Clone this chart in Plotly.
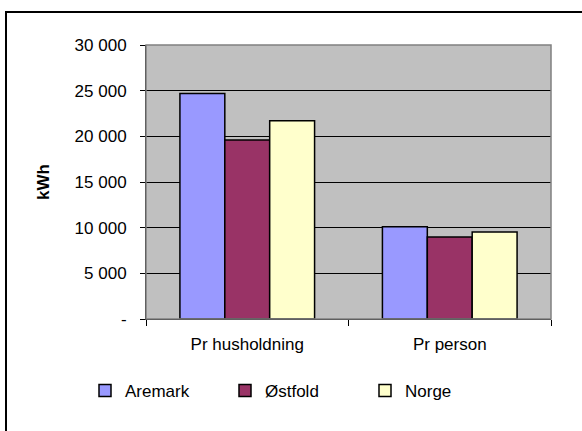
import plotly.graph_objects as go

categories = ["Pr husholdning", "Pr person"]
series_names = ["Aremark", "Østfold", "Norge"]
aremark = [24700, 10100]
ostfold = [19600, 8980]
norge = [21700, 9520]
y_tickvals = [0, 5000, 10000, 15000, 20000, 25000, 30000]
y_ticktext = ["-", "5 000", "10 000", "15 000", "20 000", "25 000", "30 000"]

colors = ["#9999FF", "#993366", "#FFFFCC"]
values = [aremark, ostfold, norge]

W, H = 582, 431
L, R, T, B = 146, 31, 45, 112
pw, ph = W - L - R, H - T - B

def px_x(x):
    return (x - L) / pw

def px_y(y):
    return (H - B - y) / ph

FONT = "Liberation Sans, Arial, sans-serif"

fig = go.Figure()
for name, vals, col in zip(series_names, values, colors):
    fig.add_trace(go.Bar(
        x=categories, y=vals, name=name,
        marker=dict(color=col, line=dict(color="black", width=1.5)),
    ))

fig.update_layout(
    width=W, height=H,
    margin=dict(l=L, r=R, t=T, b=B),
    paper_bgcolor="white",
    plot_bgcolor="#C0C0C0",
    barmode="group",
    bargap=0.335,
    bargroupgap=0,
    font=dict(family=FONT, size=17, color="black"),
    showlegend=True,
    legend=dict(
        orientation="h",
        x=px_x(85), xanchor="left",
        y=px_y(391), yanchor="middle",
        font=dict(size=17),
        entrywidth=95, entrywidthmode="pixels",
        bgcolor="rgba(0,0,0,0)",
        traceorder="normal",
    ),
    xaxis=dict(
        showline=True, linecolor="black", linewidth=1,
        ticks="outside", ticklen=6, tickcolor="black",
        tickson="boundaries",
        showgrid=False,
        ticklabelstandoff=10,
        tickfont=dict(size=17),
    ),
    yaxis=dict(
        range=[0, 30000],
        tickvals=y_tickvals, ticktext=y_ticktext,
        showline=True, linecolor="black", linewidth=1,
        ticks="outside", ticklen=5, tickcolor="black",
        showgrid=True, gridcolor="black", gridwidth=1,
        zeroline=False,
        ticklabelstandoff=10,
        tickfont=dict(size=17),
        title=dict(text="<b>kWh</b>", font=dict(size=17), standoff=20),
    ),
    shapes=[
        dict(type="rect", xref="paper", yref="paper",
             x0=0, x1=1, y0=0, y1=1,
             line=dict(color="#808080", width=1.5), layer="above"),
        dict(type="rect", xref="paper", yref="paper",
             x0=px_x(6), x1=px_x(600), y0=px_y(450), y1=px_y(12),
             line=dict(color="black", width=2), layer="above"),
    ],
)

fig.write_html(
    "out.html",
    config={"displayModeBar": False},
    post_script="document.body.style.margin='0';document.body.style.overflow='hidden';",
)
